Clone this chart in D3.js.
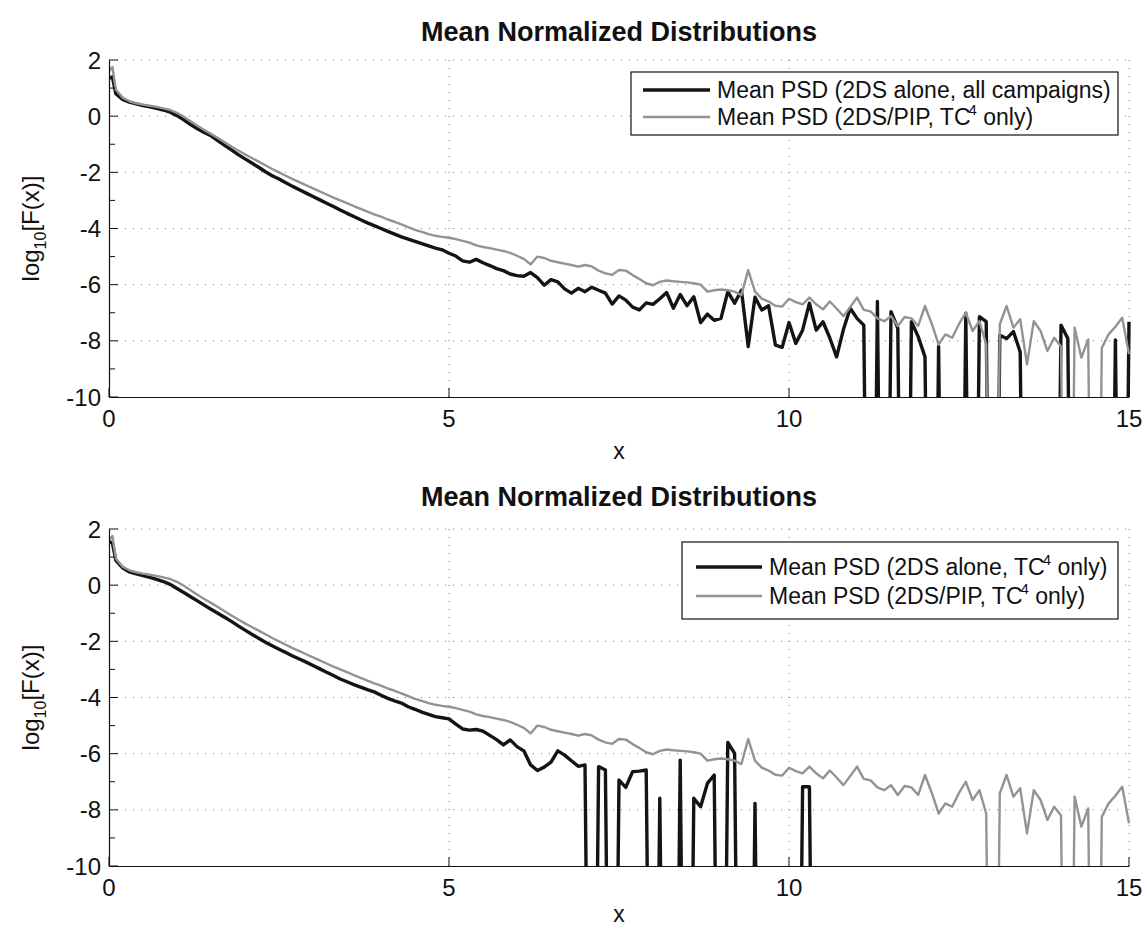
<!DOCTYPE html>
<html><head><meta charset="utf-8">
<script src="https://cdn.jsdelivr.net/npm/d3@7"></script>
<style>
body{margin:0;background:#fff}
svg{display:block}
text{font-family:"Liberation Sans",Arial,Helvetica,sans-serif;fill:#111}
</style>
</head><body>
<svg id="chart" width="1148" height="929"></svg>
<script>
// ---------- DATA ----------
const xs = [0,0.05,0.1,0.2,0.3,0.4,0.5,0.6,0.7,0.8,0.9,
1.0,1.1,1.2,1.3,1.4,1.5,1.6,1.7,1.8,1.9,
2.0,2.1,2.2,2.3,2.4,2.5,2.6,2.7,2.8,2.9,
3.0,3.1,3.2,3.3,3.4,3.5,3.6,3.7,3.8,3.9,
4.0,4.1,4.2,4.3,4.4,4.5,4.6,4.7,4.8,4.9,
5.0,5.1,5.2,5.3,5.4,5.5,5.6,5.7,5.8,5.9,
6.0,6.1,6.2,6.3,6.4,6.5,6.6,6.7,6.8,6.9,
7.0,7.1,7.2,7.3,7.4,7.5,7.6,7.7,7.8,7.9,
8.0,8.1,8.2,8.3,8.4,8.5,8.6,8.7,8.8,8.9,
9.0,9.1,9.2,9.3,9.4,9.5,9.6,9.7,9.8,9.9,
10.0,10.1,10.2,10.3,10.4,10.5,10.6,10.7,10.8,10.9,
11.0,11.1,11.2,11.3,11.4,11.5,11.6,11.7,11.8,11.9,
12.0,12.1,12.2,12.3,12.4,12.5,12.6,12.7,12.8,12.9,
13.0,13.1,13.2,13.3,13.4,13.5,13.6,13.7,13.8,13.9,
14.0,14.1,14.2,14.3,14.4,14.5,14.6,14.7,14.8,14.9,
15.0];

// Mean PSD (2DS alone, all campaigns) — log10 values, -30 = empty bin
const psdAllCampaigns = [1.35,1.4,0.8,0.6,0.5,0.44,0.38,0.33,0.28,0.22,0.14,
0.02,-0.13,-0.3,-0.45,-0.58,-0.7,-0.87,-1.04,-1.2,-1.37,
-1.52,-1.67,-1.82,-1.98,-2.12,-2.24,-2.37,-2.5,-2.62,-2.74,
-2.86,-2.98,-3.1,-3.22,-3.34,-3.46,-3.57,-3.69,-3.8,-3.9,
-4.0,-4.1,-4.2,-4.3,-4.38,-4.46,-4.54,-4.62,-4.7,-4.76,
-4.88,-4.98,-5.15,-5.2,-5.1,-5.22,-5.32,-5.43,-5.5,-5.62,
-5.68,-5.7,-5.57,-5.75,-6.02,-5.82,-5.9,-6.15,-6.3,-6.13,
-6.25,-6.09,-6.2,-6.3,-6.69,-6.4,-6.55,-6.8,-6.9,-6.65,
-6.7,-6.5,-6.28,-6.84,-6.35,-6.75,-6.43,-7.35,-7.05,-7.27,
-7.2,-6.25,-6.66,-6.2,-8.2,-6.45,-6.9,-6.75,-8.15,-8.23,
-7.35,-8.09,-7.62,-6.66,-7.62,-7.32,-7.9,-8.57,-7.6,-6.84,
-7.2,-7.44,-30,-6.6,-30,-6.96,-7.55,-30,-7.32,-7.85,
-8.57,-30,-8.2,-30,-30,-30,-7.02,-30,-7.14,-7.32,
-30,-7.8,-7.92,-7.67,-8.4,-30,-30,-30,-30,-30,
-7.44,-7.92,-30,-30,-30,-30,-30,-30,-7.97,-30,
-7.32];

// Mean PSD (2DS alone, TC4 only)
const psdTc4 = [1.55,1.5,0.88,0.62,0.47,0.4,0.34,0.28,0.21,0.13,0.03,
-0.12,-0.26,-0.41,-0.56,-0.71,-0.86,-1.0,-1.14,-1.29,-1.45,
-1.6,-1.75,-1.89,-2.03,-2.16,-2.28,-2.4,-2.52,-2.63,-2.74,
-2.86,-2.98,-3.1,-3.22,-3.34,-3.44,-3.54,-3.63,-3.72,-3.8,
-3.92,-4.03,-4.12,-4.2,-4.33,-4.42,-4.52,-4.6,-4.68,-4.72,
-4.76,-4.95,-5.12,-5.16,-5.14,-5.2,-5.35,-5.5,-5.69,-5.51,
-5.75,-5.9,-6.4,-6.6,-6.48,-6.3,-5.9,-6.05,-6.25,-6.45,
-6.4,-30,-6.46,-6.58,-30,-6.94,-7.2,-6.64,-6.62,-6.58,
-30,-7.59,-30,-30,-6.23,-30,-7.59,-7.89,-7.06,-6.76,
-30,-5.6,-5.99,-30,-30,-7.77,-30,-30,-30,-30,
-30,-30,-7.18,-7.18,-30,-30,-30,-30,-30,-30,
-30,-30,-30,-30,-30,-30,-30,-30,-30,-30,
-30,-30,-30,-30,-30,-30,-30,-30,-30,-30,
-30,-30,-30,-30,-30,-30,-30,-30,-30,-30,
-30,-30,-30,-30,-30,-30,-30,-30,-30,-30,
-30];

// Mean PSD (2DS/PIP, TC4 only) — shown in both panels
const psdPipTc4 = [1.6,1.75,0.95,0.66,0.53,0.46,0.41,0.37,0.33,0.28,0.22,
0.12,-0.02,-0.18,-0.34,-0.49,-0.63,-0.78,-0.93,-1.08,-1.22,
-1.36,-1.49,-1.62,-1.75,-1.88,-2.0,-2.12,-2.24,-2.35,-2.46,
-2.57,-2.68,-2.79,-2.9,-3.0,-3.1,-3.2,-3.3,-3.4,-3.5,
-3.58,-3.68,-3.76,-3.85,-3.95,-4.05,-4.12,-4.2,-4.26,-4.3,
-4.33,-4.38,-4.44,-4.5,-4.6,-4.66,-4.7,-4.75,-4.8,-4.87,
-4.97,-5.08,-5.28,-5.0,-5.05,-5.15,-5.2,-5.25,-5.3,-5.36,
-5.3,-5.35,-5.5,-5.6,-5.65,-5.48,-5.5,-5.66,-5.8,-5.95,
-6.02,-5.9,-5.85,-5.88,-5.9,-5.92,-5.95,-6.0,-6.25,-6.2,
-6.17,-6.2,-6.25,-6.37,-5.48,-6.25,-6.5,-6.6,-6.75,-6.78,
-6.5,-6.62,-6.7,-6.46,-6.7,-6.88,-6.6,-6.85,-7.12,-6.8,
-6.46,-6.9,-6.95,-7.2,-7.3,-7.12,-7.47,-7.15,-7.2,-7.47,
-6.76,-7.4,-8.13,-7.77,-7.89,-7.4,-7.0,-7.65,-7.3,-8.13,
-30,-7.41,-6.76,-7.53,-7.23,-8.84,-7.3,-7.65,-8.36,-7.89,
-8.2,-30,-7.53,-8.6,-7.95,-30,-8.25,-7.77,-7.5,-7.18,
-8.48];

const yTickValues = [2,1,0,-1,-2,-3,-4,-5,-6,-7,-8,-9,-10];
const yLabelValues = [2,0,-2,-4,-6,-8,-10];
const xTickValues = [0,5,10,15];
const titleText = "Mean Normalized Distributions";
const xLabelText = "x";
const legendTopLabels = [["Mean PSD (2DS alone, all campaigns)"], ["Mean PSD (2DS/PIP, TC", "4", " only)"]];
const legendBottomLabels = [["Mean PSD (2DS alone, TC", "4", " only)"], ["Mean PSD (2DS/PIP, TC", "4", " only)"]];

// ---------- DRAW ----------
const svg = d3.select("#chart");
const BLACK = "#141414", GREY = "#939393";

const panels = [
  {top:60, bottom:397, dark:psdAllCampaigns, light:psdPipTc4, legend:legendTopLabels,
   titleOff:19, xlabOff:62,
   lg:{x:631, y:72, w:487, h:63, rows:[90,117], l0:643, l1:710, tx:717}},
  {top:529, bottom:866, dark:psdTc4, light:psdPipTc4, legend:legendBottomLabels,
   titleOff:23, xlabOff:56,
   lg:{x:682, y:542, w:436, h:77, rows:[567,596], l0:696, l1:762, tx:769}}
];

const left = 109, right = 1129;
const x = d3.scaleLinear().domain([0,15]).range([left,right]);

panels.forEach((p,i) => {
  const y = d3.scaleLinear().domain([-10,2]).range([p.bottom,p.top]);
  const g = svg.append("g");

  // grid
  g.append("g").selectAll("line").data(yLabelValues.filter(v=>v>-10)).join("line")
    .attr("x1",left).attr("x2",right).attr("y1",d=>y(d)).attr("y2",d=>y(d))
    .attr("stroke","#777").attr("stroke-width",1).attr("stroke-dasharray","1,7");
  g.append("g").selectAll("line").data(xTickValues.filter(v=>v>0)).join("line")
    .attr("x1",d=>x(d)).attr("x2",d=>x(d)).attr("y1",p.top).attr("y2",p.bottom)
    .attr("stroke","#777").attr("stroke-width",1).attr("stroke-dasharray","1,7");

  // clip
  const cid = "clip"+i;
  svg.append("clipPath").attr("id",cid).append("rect")
    .attr("x",left).attr("y",p.top-5).attr("width",right-left+3).attr("height",p.bottom-p.top+5);

  const line = d3.line().x((d,k)=>x(xs[k])).y(d=>y(d));
  const lg = g.append("g").attr("clip-path",`url(#${cid})`);
  lg.append("path").datum(p.dark).attr("d",line).attr("fill","none")
    .attr("stroke",BLACK).attr("stroke-width",3.4).attr("stroke-linejoin","round");
  lg.append("path").datum(p.light).attr("d",line).attr("fill","none")
    .attr("stroke",GREY).attr("stroke-width",2.4).attr("stroke-linejoin","round");

  // axes
  const yAxis = d3.axisLeft(y).tickValues(yTickValues).tickSize(0).tickFormat("");
  const ya = g.append("g").attr("transform",`translate(${left},0)`).call(yAxis);
  ya.select(".domain").attr("stroke","#111").attr("stroke-width",1.2);
  ya.selectAll(".tick line").remove();
  g.append("g").selectAll("line").data(yTickValues).join("line")
    .attr("x1",left).attr("x2",d=>left + (d%2===0?9:6)).attr("y1",d=>y(d)).attr("y2",d=>y(d))
    .attr("stroke","#111").attr("stroke-width",1);
  g.append("g").selectAll("text").data(yLabelValues).join("text")
    .attr("x",left-8).attr("y",d=>y(d)).attr("dy","0.36em")
    .attr("text-anchor","end").attr("font-size",24).text(d=>d);

  const xAxis = d3.axisBottom(x).tickValues(xTickValues).tickSize(0).tickFormat("");
  const xa = g.append("g").attr("transform",`translate(0,${p.bottom})`).call(xAxis);
  xa.select(".domain").attr("stroke","#111").attr("stroke-width",1.2);
  xa.selectAll(".tick line").remove();
  g.append("g").selectAll("line").data(xTickValues).join("line")
    .attr("x1",d=>x(d)).attr("x2",d=>x(d)).attr("y1",p.bottom).attr("y2",p.bottom-9)
    .attr("stroke","#111").attr("stroke-width",1);
  g.append("g").selectAll("text").data(xTickValues).join("text")
    .attr("x",d=>x(d)).attr("y",p.bottom+30).attr("text-anchor","middle")
    .attr("font-size",24).text(d=>d);

  // title & labels
  g.append("text").attr("x",(left+right)/2).attr("y",p.top-p.titleOff).attr("text-anchor","middle")
    .attr("font-size",27).attr("font-weight","bold").text(titleText);
  g.append("text").attr("x",(left+right)/2).attr("y",p.bottom+p.xlabOff).attr("text-anchor","middle")
    .attr("font-size",23).text(xLabelText);
  const yl = g.append("text").attr("transform",`translate(39,${(p.top+p.bottom)/2}) rotate(-90)`)
    .attr("text-anchor","middle").attr("font-size",24);
  yl.append("tspan").text("log");
  yl.append("tspan").attr("font-size",16).attr("dy",7).text("10");
  yl.append("tspan").attr("dy",-7).text("[F(x)]");

  // legend
  const L = p.lg;
  g.append("rect").attr("x",L.x).attr("y",L.y).attr("width",L.w).attr("height",L.h)
    .attr("fill","#fff").attr("stroke","#111").attr("stroke-width",1.2);
  p.legend.forEach((parts,k) => {
    const ry = L.rows[k];
    g.append("line").attr("x1",L.l0).attr("x2",L.l1).attr("y1",ry).attr("y2",ry)
      .attr("stroke",k===0?BLACK:GREY).attr("stroke-width",k===0?3.4:2.4);
    const t = g.append("text").attr("x",L.tx).attr("y",ry).attr("dy","0.36em").attr("font-size",23);
    t.append("tspan").text(parts[0]);
    if (parts.length>1){
      t.append("tspan").attr("font-size",15).attr("dy",-10).attr("dx",-2).text(parts[1]);
      t.append("tspan").attr("dy",10).text(parts[2]);
    }
  });
});
</script>
</body></html>
